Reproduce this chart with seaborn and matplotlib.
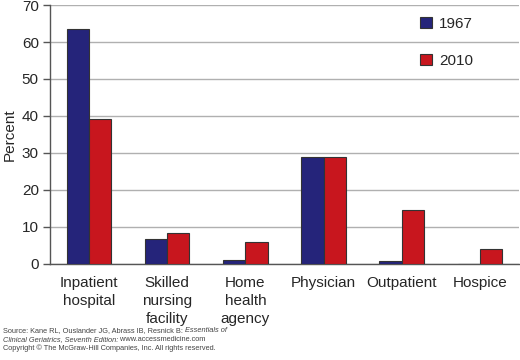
import matplotlib
matplotlib.use("Agg")
import matplotlib.pyplot as plt
import pandas as pd
import seaborn as sns

# data
categories = ["Inpatient\nhospital", "Skilled\nnursing\nfacility", "Home\nhealth\nagency",
              "Physician", "Outpatient", "Hospice"]
pct_1967 = [63.4, 6.7, 1.1, 29.0, 0.9, 0.0]
pct_2010 = [39.3, 8.4, 5.9, 29.0, 14.6, 4.0]
years = ["1967", "2010"]
colors = ["#25247a", "#c8161e"]

df = pd.DataFrame({
    "category": categories * 2,
    "year": [years[0]] * len(categories) + [years[1]] * len(categories),
    "percent": pct_1967 + pct_2010,
})

sns.set_style("white")
plt.rcParams["font.family"] = ["Liberation Sans", "DejaVu Sans"]

fig = plt.figure(figsize=(5.2, 3.6), dpi=100)
ax = fig.add_axes([0.096, 0.267, 0.902, 0.719])

sns.barplot(data=df, x="category", y="percent", hue="year", palette=colors,
            saturation=1, width=0.57, edgecolor="#333333", linewidth=0.8,
            ax=ax, zorder=3)

ax.set_ylim(0, 70)
ax.set_xlim(-0.5, 5.5)
ax.set_yticks(range(0, 71, 10))
ax.yaxis.grid(True, color="#b0b0b0", linewidth=1.0, zorder=0)
ax.set_axisbelow(True)

for side in ["top", "right"]:
    ax.spines[side].set_visible(False)
for side in ["left", "bottom"]:
    ax.spines[side].set_color("#555555")
    ax.spines[side].set_linewidth(1.0)

# category labels centered, tick marks on the boundaries
ax.set_xticks(range(len(categories)))
ax.set_xticklabels(categories, fontsize=11, linespacing=1.35)
ax.set_xticks([i - 0.5 for i in range(len(categories) + 1)], minor=True)
ax.tick_params(axis="x", which="major", length=0, pad=9)
ax.tick_params(axis="x", which="minor", length=6, color="#555555", width=1, direction="out")
ax.tick_params(axis="y", length=5, color="#555555", width=1, direction="out",
               labelsize=11, pad=3, left=True)

ax.set_xlabel("")
ax.set_ylabel("Percent", fontsize=11, labelpad=4)

ax.legend(loc="upper left", bbox_to_anchor=(0.76, 1.008), frameon=False,
          fontsize=11, handlelength=0.8, handleheight=0.8, labelspacing=1.5,
          handletextpad=0.45)
for h in ax.get_legend().legend_handles:
    h.set_edgecolor("#333333")
    h.set_linewidth(0.8)

# source footer with italic parts
fig.canvas.draw()
renderer = fig.canvas.get_renderer()
fs = 5.3
footer = [
    (0.006, 0.077, [("Source: Kane RL, Ouslander JG, Abrass IB, Resnick B: ", "normal"),
                    ("Essentials of", "italic")]),
    (0.006, 0.054, [("Clinical Geriatrics, Seventh Edition:", "italic"),
                    (" www.accessmedicine.com", "normal")]),
    (0.006, 0.027, [("Copyright \u00a9 The McGraw-Hill Companies, Inc. All rights reserved.", "normal")]),
]
for x0, y0, parts in footer:
    x = x0
    for s, style in parts:
        t = fig.text(x, y0, s, fontsize=fs, style=style, color="#444444",
                     ha="left", va="baseline")
        bb = t.get_window_extent(renderer)
        x += bb.width / fig.bbox.width

fig.savefig("out.png", dpi=100)
